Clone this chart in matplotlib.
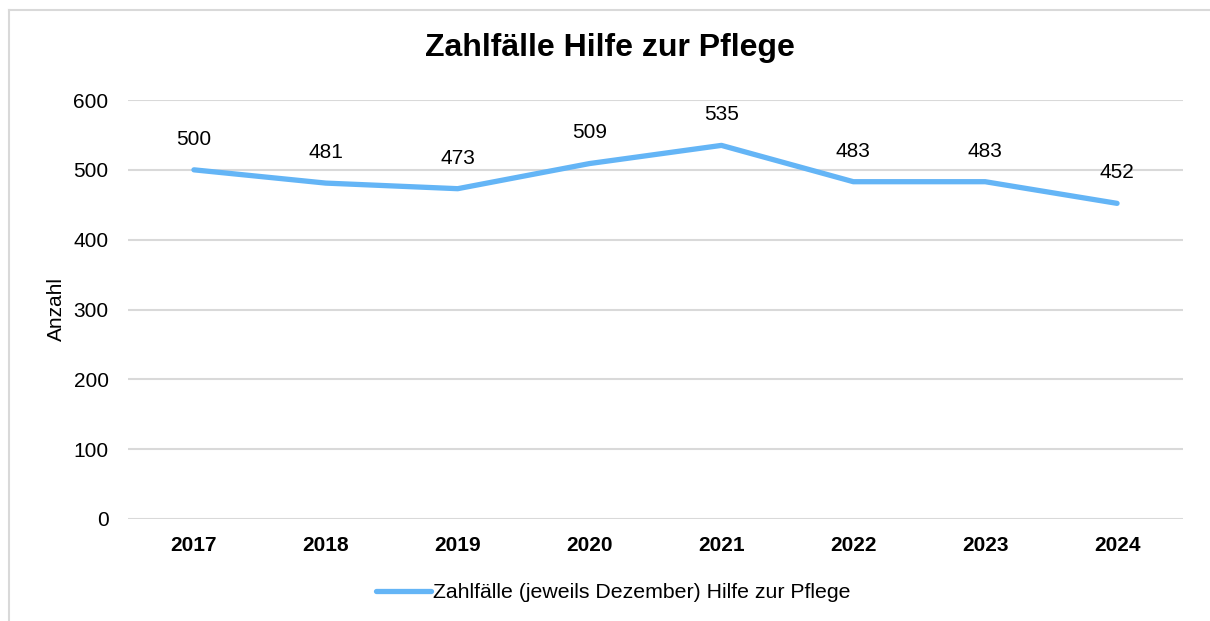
import matplotlib
matplotlib.use("Agg")
import matplotlib.pyplot as plt
from matplotlib.lines import Line2D

years = ["2017", "2018", "2019", "2020", "2021", "2022", "2023", "2024"]
values = [500, 481, 473, 509, 535, 483, 483, 452]
yticks = [0, 100, 200, 300, 400, 500, 600]
series_name = "Zahlfälle (jeweils Dezember) Hilfe zur Pflege"
title = "Zahlfälle Hilfe zur Pflege"

plt.rcParams['font.family'] = ['Liberation Sans', 'DejaVu Sans']
W, H = 1210, 621
fig = plt.figure(figsize=(W/100, H/100), dpi=100)
fig.patch.set_facecolor('white')

# outer chart border (top and left only visible)
bx, by = 8.5/W, 1 - 9.5/H
fig.add_artist(Line2D([bx, 1.0], [by, by], transform=fig.transFigure, color='#D9D9D9', linewidth=1.5))
fig.add_artist(Line2D([bx, bx], [0, by], transform=fig.transFigure, color='#D9D9D9', linewidth=1.5))

ax = fig.add_axes([128/W, 1 - 519/H, (1183-128)/W, (519-100)/H])
x = list(range(len(years)))
color = '#64B5F6'
ax.plot(x, values, color=color, linewidth=3.8, solid_capstyle='round', label=series_name, zorder=3)
ax.set_xlim(-0.5, len(years) - 0.5)
ax.set_ylim(0, 600)
ax.set_yticks(yticks)
ax.set_xticks(x)
ax.set_xticklabels(years, fontweight='bold', fontsize=15)
ax.tick_params(axis='y', labelsize=15, length=0, pad=14)
ax.tick_params(axis='x', length=0, pad=12)
ax.grid(axis='y', color='#D9D9D9', linewidth=1.5)
ax.set_axisbelow(True)
for s in ax.spines.values():
    s.set_visible(False)
for xi, v in zip(x, values):
    ax.annotate(str(v), (xi, v), xytext=(0, 22), textcoords='offset points',
                ha='center', va='center', fontsize=15)
fig.text(56/W, 1 - 309/H, "Anzahl", rotation=90, ha='center', va='center', fontsize=15)
fig.text(610/W, 1 - 48/H, title, ha='center', va='center', fontsize=23, fontweight='bold')
leg = fig.legend(loc='center', bbox_to_anchor=(613/W, 1 - 593/H), frameon=False,
                 fontsize=15.3, handlelength=2.6, handletextpad=0.1)
fig.savefig('out.png', dpi=100)
